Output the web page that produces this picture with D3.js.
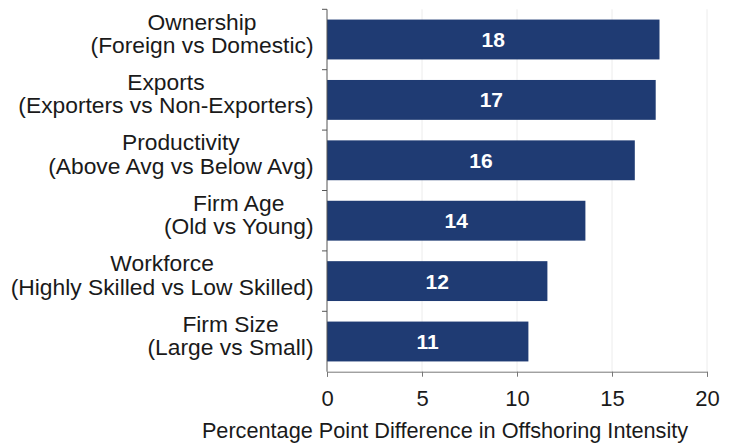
<!DOCTYPE html>
<html>
<head>
<meta charset="utf-8">
<script src="https://cdn.jsdelivr.net/npm/d3@7"></script>
<style>
  html, body { margin: 0; padding: 0; background: #ffffff; }
  svg { display: block; font-family: "Liberation Sans", Arial, sans-serif; }
</style>
</head>
<body>
<svg id="chart" width="737" height="445"></svg>
<script>
// Category labels (two lines each), top to bottom
const categoryTitles = ["Ownership", "Exports", "Productivity", "Firm Age", "Workforce", "Firm Size"];
const categorySubtitles = [
  "(Foreign vs Domestic)",
  "(Exporters vs Non-Exporters)",
  "(Above Avg vs Below Avg)",
  "(Old vs Young)",
  "(Highly Skilled vs Low Skilled)",
  "(Large vs Small)"
];
// Percentage point difference in offshoring intensity
const values = [17.5, 17.3, 16.2, 13.6, 11.6, 10.6];
const xTicks = [0, 5, 10, 15, 20];
const xTitle = "Percentage Point Difference in Offshoring Intensity";

const svg = d3.select("#chart");
const plotLeft = 327, plotRight = 707, plotTop = 9.3, plotBottom = 371.7;
const barColor = "#1f3b73";
const textColor = "#1a1a1a";

const x = d3.scaleLinear().domain([0, 20]).range([plotLeft, plotRight]);
const y = d3.scaleBand()
  .domain(d3.range(values.length))
  .range([plotTop, plotBottom])
  .paddingInner(0.34)
  .paddingOuter(0.17);

// faint vertical gridlines
svg.append("g")
  .selectAll("line")
  .data(xTicks.filter(d => d > 0))
  .join("line")
  .attr("x1", d => x(d)).attr("x2", d => x(d))
  .attr("y1", plotTop).attr("y2", plotBottom)
  .attr("stroke", "#ececec")
  .attr("stroke-width", 1);

// bars
svg.append("g")
  .selectAll("rect")
  .data(values)
  .join("rect")
  .attr("x", x(0))
  .attr("y", (d, i) => y(i))
  .attr("width", d => x(d) - x(0))
  .attr("height", y.bandwidth())
  .attr("fill", barColor);

// value labels inside bars
const fmt = d3.format(".0f");
svg.append("g")
  .selectAll("text")
  .data(values)
  .join("text")
  .attr("x", d => (x(0) + x(d)) / 2)
  .attr("y", (d, i) => y(i) + y.bandwidth() / 2)
  .attr("dy", "0.36em")
  .attr("text-anchor", "middle")
  .attr("fill", "#ffffff")
  .attr("font-size", 21)
  .attr("font-weight", "bold")
  .text(d => fmt(d));

// x axis
const xAxis = svg.append("g")
  .attr("transform", `translate(0,${plotBottom})`)
  .call(d3.axisBottom(x).tickValues(xTicks).tickSize(5).tickPadding(14));
xAxis.select(".domain").attr("stroke", "#777");
xAxis.selectAll(".tick line").attr("stroke", "#777");
xAxis.selectAll(".tick text")
  .attr("font-size", 22)
  .attr("font-family", "Liberation Sans, Arial, sans-serif")
  .attr("fill", textColor);

// x axis title
svg.append("text")
  .attr("x", 445)
  .attr("y", 438)
  .attr("text-anchor", "middle")
  .attr("font-size", 21.7)
  .attr("fill", textColor)
  .text(xTitle);

// y axis line with ticks at band boundaries
const boundaries = d3.range(values.length).map(i => y(i) - y.step() * y.paddingInner() / 2);
const yAxisG = svg.append("g");
yAxisG.append("line")
  .attr("x1", plotLeft).attr("x2", plotLeft)
  .attr("y1", plotTop).attr("y2", plotBottom)
  .attr("stroke", "#555");
yAxisG.selectAll("line.tick")
  .data(boundaries)
  .join("line")
  .attr("class", "tick")
  .attr("x1", plotLeft - 5).attr("x2", plotLeft)
  .attr("y1", d => d).attr("y2", d => d)
  .attr("stroke", "#555");

// category labels, two centred lines per bar, block right-aligned to the axis
const labelRight = 313.5;
const labelSize = 22.8;
const lab = svg.append("g")
  .attr("font-size", labelSize)
  .attr("fill", textColor);
categoryTitles.forEach((t, i) => {
  const cy = y(i) + y.bandwidth() / 2;
  const g = lab.append("g");
  const t1 = g.append("text").attr("text-anchor", "middle").attr("y", cy - 10).text(t);
  const t2 = g.append("text").attr("text-anchor", "middle").attr("y", cy + 13.5).text(categorySubtitles[i]);
  const w = Math.max(t1.node().getComputedTextLength(), t2.node().getComputedTextLength());
  const cx = labelRight - w / 2;
  t1.attr("x", cx);
  t2.attr("x", cx);
});
</script>
</body>
</html>
